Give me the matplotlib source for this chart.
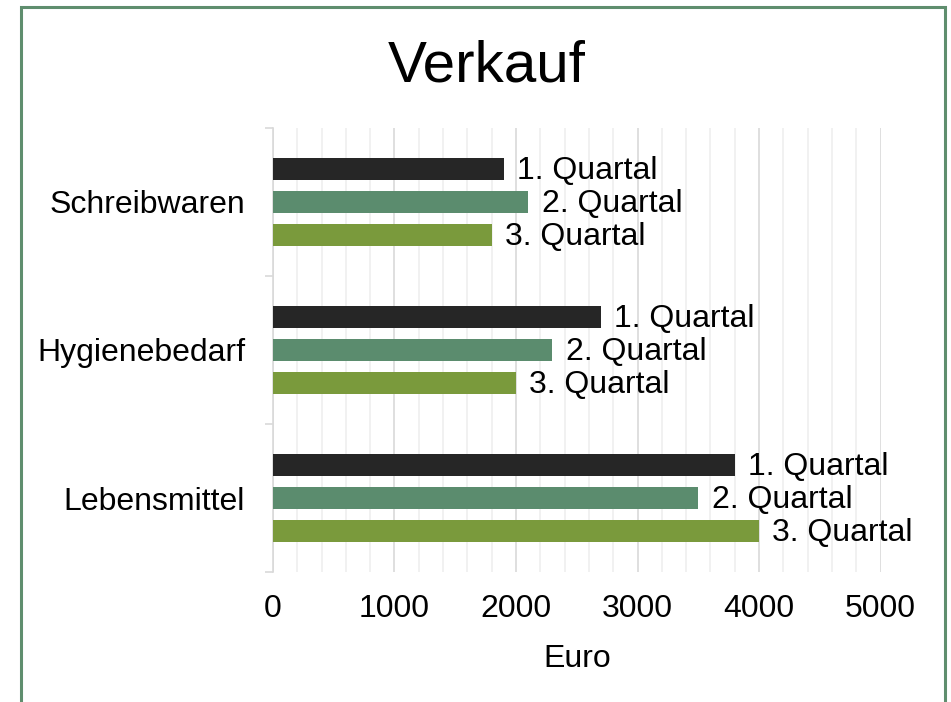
"""
Verkauf - horizontal grouped bar chart (Excel style).
"""

import numpy as np
import matplotlib
matplotlib.use("Agg")
import matplotlib.pyplot as plt
from matplotlib.patches import Rectangle
from matplotlib.ticker import MultipleLocator

# ─── Data ─────────────────────────────────────────────────────────────────────
categories = ["Lebensmittel", "Hygienebedarf", "Schreibwaren"]   # bottom -> top
series     = ["1. Quartal", "2. Quartal", "3. Quartal"]
q1 = [3800, 2700, 1900]
q2 = [3500, 2300, 2100]
q3 = [4000, 2000, 1800]
colors = ["#262626", "#5B8C6E", "#7A9A3C"]

FS = 23

plt.rcParams["font.family"] = ["Liberation Sans", "DejaVu Sans"]

fig = plt.figure(figsize=(9.51, 7.02), dpi=100)
ax = fig.add_axes([0.287, 0.185, 0.639, 0.633])

y = np.arange(len(categories))
offsets = [0.223, 0.0, -0.223]
height = 0.149

for vals, off, col, name in zip([q1, q2, q3], offsets, colors, series):
    bars = ax.barh(y + off, vals, height=height, color=col, zorder=3)
    for b, v in zip(bars, vals):
        # label sits a touch below the bar centre, as in the screenshot
        ax.text(v + 110, b.get_y() + b.get_height() / 2 - 0.012, name,
                va="center", ha="left", fontsize=FS, zorder=4)

ax.set_xlim(0, 5000)
ax.set_ylim(-0.5, 2.5)
ax.xaxis.set_major_locator(MultipleLocator(1000))
ax.xaxis.set_minor_locator(MultipleLocator(200))
ax.grid(axis="x", which="major", color="#d9d9d9", linewidth=1.2, zorder=0)
ax.grid(axis="x", which="minor", color="#efefef", linewidth=1.2, zorder=0)

# category separators as y ticks
ax.set_yticks(np.arange(-0.5, 3.0, 1.0))
ax.set_yticklabels([])
ax.set_yticks(y, minor=True)
ax.set_yticklabels(categories, minor=True, fontsize=FS)
ax.tick_params(axis="y", which="major", length=6, color="#d9d9d9", width=1.2)
ax.tick_params(axis="y", which="minor", length=0, pad=20)
ax.tick_params(axis="x", which="both", length=0, pad=16, labelsize=FS)

for s in ["top", "right", "bottom"]:
    ax.spines[s].set_visible(False)
ax.spines["left"].set_color("#d9d9d9")
ax.spines["left"].set_linewidth(1.2)

ax.set_xlabel("Euro", fontsize=FS, labelpad=14)
fig.text(0.512, 0.905, "Verkauf", ha="center", va="center", fontsize=42)

# chart frame (cut off at the bottom like the screenshot)
frame = Rectangle((21 / 951, -0.1), (945 - 21) / 951, 1.1 - 7 / 702,
                  transform=fig.transFigure, fill=False,
                  edgecolor="#5F8E6E", linewidth=2.2, clip_on=False)
fig.patches.append(frame)

fig.savefig("out.png", dpi=100)
